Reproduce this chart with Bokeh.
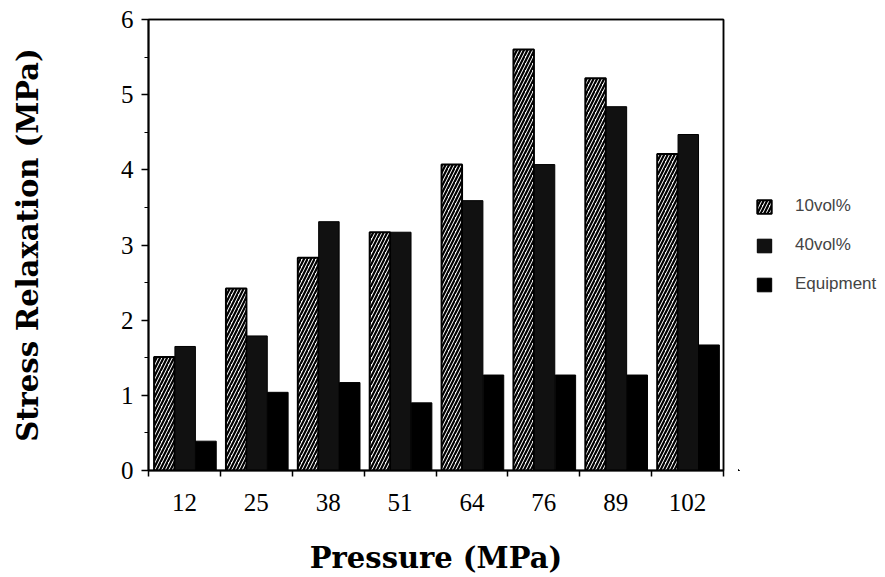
from bokeh.plotting import figure
from bokeh.layouts import row
from bokeh.models import FixedTicker, Range1d, Legend, LegendItem, SingleIntervalTicker, LinearAxis
from bokeh.embed import file_html
from bokeh.resources import INLINE

pressures = ["12", "25", "38", "51", "64", "76", "89", "102"]
vol10 = [1.51, 2.42, 2.83, 3.17, 4.07, 5.60, 5.22, 4.21]
vol40 = [1.65, 1.79, 3.31, 3.17, 3.59, 4.07, 4.84, 4.47]
equipment = [0.39, 1.04, 1.17, 0.90, 1.27, 1.27, 1.27, 1.67]
series_names = ["10vol%", "40vol%", "Equipment"]

n = len(pressures)
idx = list(range(n))
offsets = [0.22, 0.51, 0.80]
bw = 0.285

H = 577
style10 = dict(fill_color="white", line_color="black", line_width=2,
               hatch_pattern="/", hatch_color="black", hatch_scale=7, hatch_weight=2.2)
style40 = dict(fill_color="#111111", line_color="black", line_width=1)
styleEq = dict(fill_color="black", line_color="black", line_width=1)

p = figure(width=738, height=H, output_backend="svg", toolbar_location=None,
           x_range=Range1d(0, n), y_range=Range1d(0, 6),
           min_border_left=148, min_border_right=15, min_border_top=19, min_border_bottom=H - 471)
p.background_fill_color = "white"
p.border_fill_color = "white"
p.grid.grid_line_color = None
p.outline_line_color = "black"
p.outline_line_width = 1.5

p.vbar(x=[i + offsets[0] for i in idx], top=vol10, width=bw, bottom=0, **style10)
p.vbar(x=[i + offsets[1] for i in idx], top=vol40, width=bw, bottom=0, **style40)
p.vbar(x=[i + offsets[2] for i in idx], top=equipment, width=bw, bottom=0, **styleEq)

xa = p.below[0]
ya = p.left[0]

# plain frame lines on top and right (axes without ticks or labels)
for side in ("above", "right"):
    ax = LinearAxis(ticker=FixedTicker(ticks=[], minor_ticks=[]),
                    axis_line_width=1.5, axis_line_color="black",
                    major_tick_line_color=None, minor_tick_line_color=None,
                    major_tick_out=0, major_tick_in=0, minor_tick_out=0, minor_tick_in=0,
                    major_label_standoff=0)
    p.add_layout(ax, side)

# x axis: labels at category centres, tick marks at category boundaries
xa.ticker = FixedTicker(ticks=[i + 0.5 for i in idx], minor_ticks=list(range(n + 1)))
xa.major_label_overrides = {i + 0.5: lab for i, lab in zip(idx, pressures)}
xa.major_tick_line_color = None
xa.major_tick_out = 0
xa.major_tick_in = 0
xa.minor_tick_line_color = "black"
xa.minor_tick_line_width = 1.5
xa.minor_tick_out = 6
xa.minor_tick_in = 0
xa.axis_line_width = 2
xa.major_label_text_font = "Liberation Serif"
xa.major_label_text_font_size = "25px"
xa.major_label_text_color = "black"
xa.major_label_standoff = 17
xa.axis_label = "Pressure (MPa)"
xa.axis_label_text_font = "DejaVu Serif"
xa.axis_label_text_font_style = "bold"
xa.axis_label_text_font_size = "29px"
xa.axis_label_text_color = "black"
xa.axis_label_standoff = 27

ya.ticker = SingleIntervalTicker(interval=1, num_minor_ticks=2)
ya.axis_line_width = 2
ya.major_tick_out = 7
ya.major_tick_in = 0
ya.major_tick_line_width = 1.5
ya.minor_tick_out = 4
ya.minor_tick_in = 0
ya.major_label_text_font = "Liberation Serif"
ya.major_label_text_font_size = "25px"
ya.major_label_text_color = "black"
ya.major_label_standoff = 8
ya.axis_label = "Stress Relaxation (MPa)"
ya.axis_label_text_font = "DejaVu Serif"
ya.axis_label_text_font_style = "bold"
ya.axis_label_text_font_size = "29px"
ya.axis_label_text_color = "black"
ya.axis_label_standoff = 73

# legend panel (its glyph renderers use the same series but lie outside its view)
q = figure(width=139, height=H, output_backend="svg", toolbar_location=None,
           x_range=Range1d(100, 101), y_range=Range1d(100, 101),
           min_border_left=0, min_border_right=0, min_border_top=0, min_border_bottom=0)
q.axis.visible = False
q.grid.grid_line_color = None
q.outline_line_color = None
q.background_fill_color = "white"
q.border_fill_color = "white"
g1 = q.vbar(x=idx, top=vol10, width=bw, **style10)
g2 = q.vbar(x=idx, top=vol40, width=bw, **style40)
g3 = q.vbar(x=idx, top=equipment, width=bw, **styleEq)

legend = Legend(items=[LegendItem(label=series_names[0], renderers=[g1]),
                       LegendItem(label=series_names[1], renderers=[g2]),
                       LegendItem(label=series_names[2], renderers=[g3])],
                location=(17, 176), border_line_color=None, background_fill_alpha=0,
                label_text_font="Liberation Sans", label_text_font_size="17px",
                glyph_width=18, glyph_height=17, spacing=19, label_standoff=22,
                margin=0, padding=0)
q.add_layout(legend)

open("out.html", "w").write(file_html(row(p, q), INLINE))
